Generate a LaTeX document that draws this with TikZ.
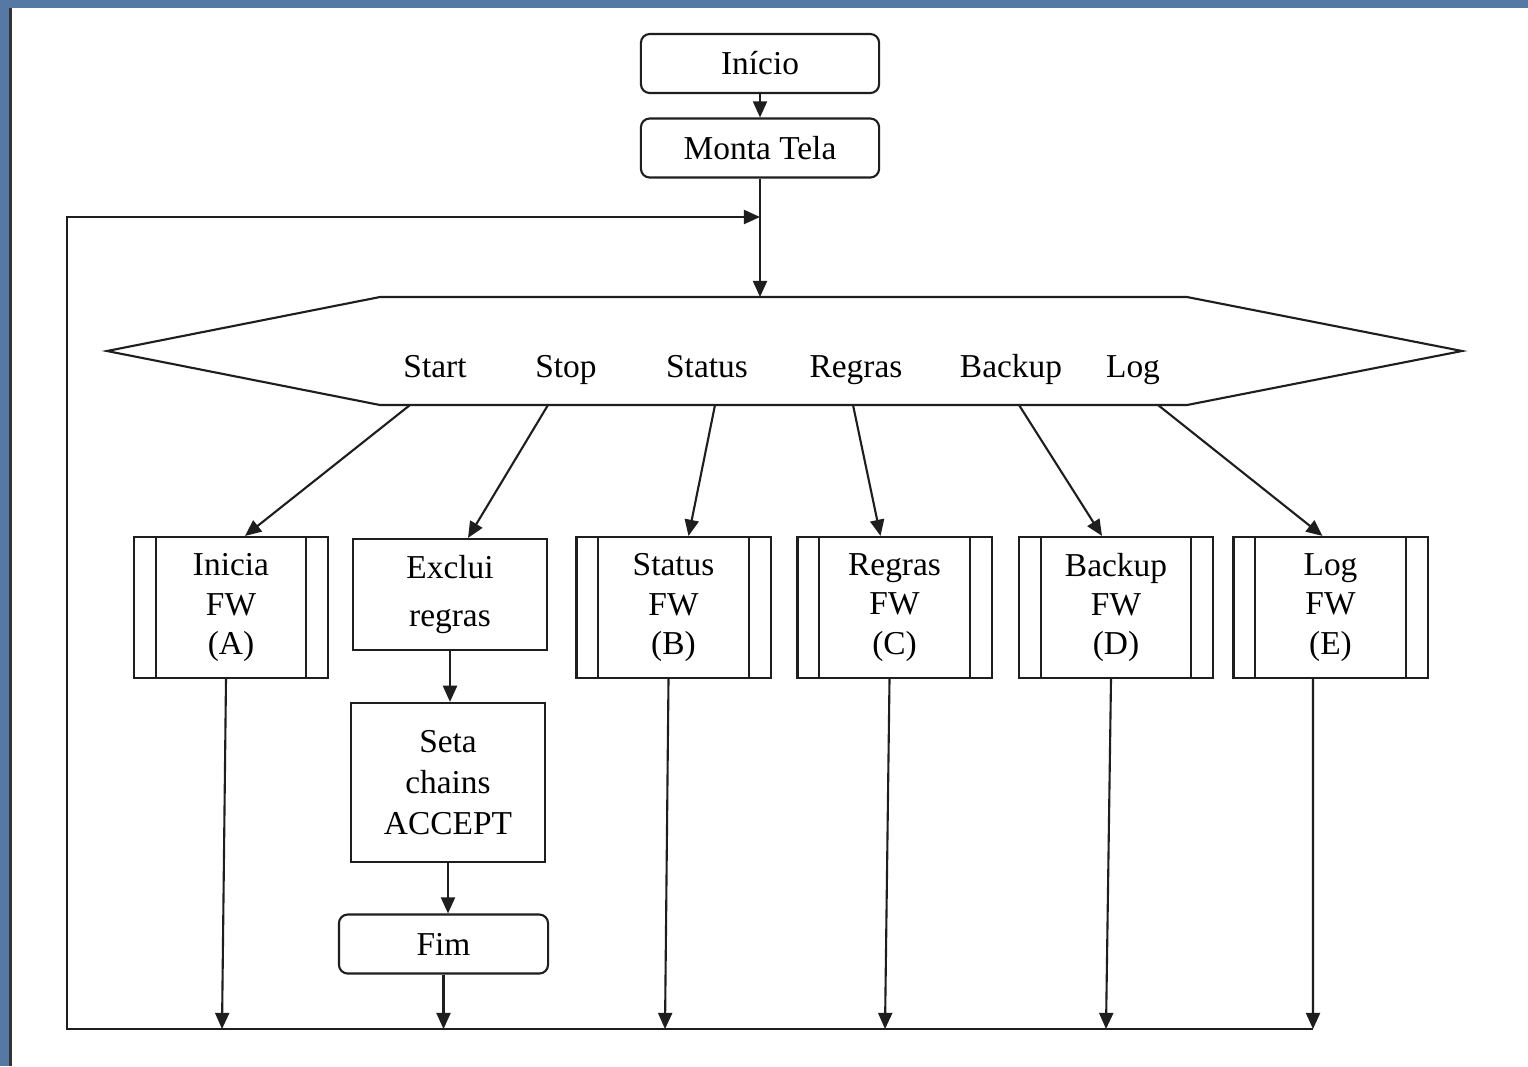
\documentclass[tikz,border=0pt]{standalone}
\usepackage{fontspec}
\setmainfont{Liberation Serif}
\usetikzlibrary{arrows.meta}
\usetikzlibrary{positioning}
\definecolor{slideblue}{RGB}{86,120,165}
\definecolor{traco}{RGB}{30,30,30}
\tikzset{seta/.style = {-{Triangle[length=4.6pt, width=4pt]}}}
\tikzset{term/.style = {draw, rounded corners = 2.5pt, minimum width = 2.38cm, minimum height = 0.59cm, inner sep = 0}}
\tikzset{proc/.style = {draw, minimum width = 1.94cm, align = center, inner sep = 0}}
\tikzset{subproc/.style = {draw, minimum width = 1.94cm, minimum height = 1.41cm, align = center, inner sep = 0}}
\tikzset{opcao/.style = {anchor = base}}

\begin{document}
\begin{tikzpicture}[x=0.01cm, y=-0.01cm, line width=0.6pt, draw=traco,
    font=\fontsize{9.5}{11.2}\selectfont]
          \useasboundingbox (0, 0) rectangle (1528, 1066);
          \fill[slideblue] (0, 0) rectangle (1528, 1066);
          \fill[white] (10, 8) rectangle (1528, 1066);
          \draw[black!80, line width=1pt] (10.5, 1066) -- (10.5, 8);

          \node[term] (inicio) at (760, 63.5) {Início};
          \node[term] (monta) at (760, 148) {Monta Tela};
          \draw[seta] (inicio) -- (monta);

          % menu
          \draw (107, 351) -- (380, 297) -- (1187, 297) -- (1462, 351)
                -- (1187, 405) -- (380, 405) -- cycle;
          \coordinate (topo) at (760, 297);
          \coordinate (volta) at (760, 217);
          \node[opcao] at (435, 377) {Start};
          \node[opcao] at (566, 377) {Stop};
          \node[opcao] at (707, 377) {Status};
          \node[opcao] at (856, 377) {Regras};
          \node[opcao] at (1011, 377) {Backup};
          \node[opcao] at (1133, 377) {Log};
          \draw[seta] (monta) -- (topo);

          \node[subproc] (A) at (231, 607.5) {Inicia\\FW\\(A)};
          \node[proc, minimum height = 1.11cm] (exclui) at (450, 594.5) {Exclui\\[2.5pt]regras};
          \node[proc, minimum height = 1.59cm] (seta) at (448, 782.5) {Seta\\[0.5pt]chains\\[0.5pt]ACCEPT};
          \node[term, minimum width = 2.09cm] (fim) at (443.5, 944) {Fim};
          \node[subproc] (B) at (673.5, 607.5) {Status\\FW\\(B)};
          \node[subproc] (C) at (894.5, 607.5) {Regras\\FW\\(C)};
          \node[subproc] (D) at (1116, 607.5) {Backup\\FW\\(D)};
          \node[subproc] (E) at (1330.5, 607.5) {Log\\FW\\(E)};

          \foreach \n in {A, B, C, D, E} {
            \draw ([xshift=0.23cm]\n.north west) -- ([xshift=0.23cm]\n.south west);
            \draw ([xshift=-0.23cm]\n.north east) -- ([xshift=-0.23cm]\n.south east);
          }

          % saidas do menu
          \foreach \n/\x/\dx in {A/410/0.14, exclui/548/0.18, B/715/0.15,
                                 C/853/-0.14, D/1019/-0.14, E/1158/-0.08} {
            \coordinate (m\n) at (\x, 405);
            \draw[seta] (m\n) -- ([xshift=\dx cm]\n.north);
          }

          \draw[seta] (exclui.south) -- (exclui.south |- seta.north);
          \draw[seta] (seta.south) -- (seta.south |- fim.north);

          % retorno
          \coordinate (base) at (67, 1029);
          \coordinate (fE) at (1313, 1029);
          \draw[seta] (fE) -- (base) -- (base |- volta) -- (volta);
          \draw[seta] (fim.south) -- (fim.south |- base);
          \foreach \n/\x/\dx in {A/222/-0.05, B/665/-0.05, C/885/-0.05, D/1106/-0.05} {
            \coordinate (f\n) at (\x, 1029);
            \draw[seta] ([xshift=\dx cm]\n.south) -- (f\n);
          }
          \draw[seta] ([xshift=-0.175cm]E.south) -- (fE);
        \end{tikzpicture}
\end{document}
